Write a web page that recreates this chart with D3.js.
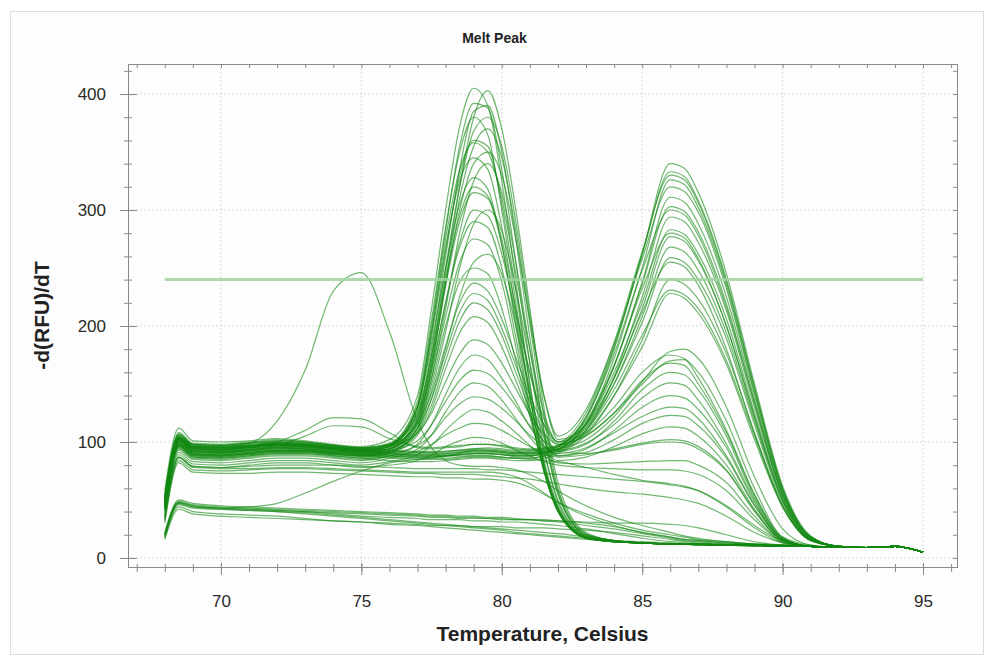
<!DOCTYPE html>
<html>
<head>
<meta charset="utf-8">
<script src="https://cdn.jsdelivr.net/npm/d3@7"></script>
<style>
  body { margin: 0; background: #fff; }
  svg { display: block; }
  text { font-family: "Liberation Sans", Arial, sans-serif; }
</style>
</head>
<body>
<svg id="chart" width="989" height="659"></svg>
<script>
// temperature grid shared by every well
const temps = [68, 68.5, 69, 70, 71, 72, 73, 74, 75, 76, 77, 77.5, 78, 78.5, 79, 79.5, 80, 80.5, 81, 81.5, 82, 83, 84, 85, 86, 86.5, 87, 88, 89, 90, 91, 92, 93, 94, 95];

const xTicks = [70, 75, 80, 85, 90, 95];
const yTicks = [0, 100, 200, 300, 400];
const threshold = 240;

// wells with only the ~79 C peak
const peakOneCurves = [
    [58, 112, 101, 100, 101, 103, 101, 98, 96, 102, 140, 215, 300, 372, 405, 390, 325, 238, 150, 82, 42, 18, 14, 13, 12, 12, 12, 11, 11, 10, 10, 9, 9, 10, 5],
    [55, 108, 99, 98, 100, 102, 100, 97, 95, 98, 122, 170, 245, 320, 380, 403, 370, 300, 215, 130, 65, 22, 15, 13, 12, 12, 12, 11, 11, 10, 10, 9, 9, 10, 5],
    [52, 105, 96, 95, 97, 99, 98, 96, 94, 97, 125, 180, 260, 335, 385, 390, 350, 275, 190, 110, 55, 20, 15, 13, 12, 12, 11, 11, 11, 10, 10, 9, 9, 10, 5],
    [54, 107, 98, 97, 99, 101, 100, 97, 95, 99, 132, 200, 282, 355, 392, 388, 335, 255, 168, 95, 48, 19, 14, 13, 12, 12, 12, 11, 11, 10, 10, 9, 9, 10, 5],
    [50, 104, 95, 94, 96, 98, 97, 95, 93, 98, 135, 205, 285, 350, 380, 365, 300, 220, 140, 78, 40, 17, 14, 13, 12, 12, 12, 11, 11, 10, 10, 9, 9, 10, 5],
    [51, 104, 96, 95, 97, 99, 98, 95, 93, 96, 118, 165, 238, 310, 355, 370, 345, 282, 202, 122, 60, 21, 15, 13, 12, 12, 12, 11, 11, 10, 10, 9, 9, 10, 5],
    [48, 102, 94, 93, 95, 97, 96, 94, 92, 96, 128, 190, 265, 330, 360, 355, 305, 230, 150, 85, 45, 18, 14, 13, 12, 12, 12, 11, 11, 10, 10, 9, 9, 10, 5],
    [49, 103, 95, 94, 96, 98, 97, 94, 92, 97, 130, 195, 268, 325, 345, 335, 285, 212, 140, 80, 42, 17, 14, 13, 12, 12, 12, 11, 11, 10, 10, 9, 9, 10, 5],
    [46, 100, 92, 91, 93, 95, 95, 93, 91, 94, 115, 155, 215, 280, 325, 340, 315, 255, 180, 110, 58, 20, 15, 13, 12, 12, 12, 11, 11, 10, 10, 9, 9, 10, 5],
    [50, 103, 95, 94, 96, 98, 97, 95, 93, 97, 130, 185, 250, 305, 328, 318, 270, 200, 130, 75, 40, 17, 14, 13, 12, 12, 12, 11, 11, 10, 10, 9, 9, 10, 5],
    [45, 98, 90, 89, 91, 93, 93, 91, 90, 93, 120, 170, 235, 290, 315, 310, 270, 205, 138, 80, 42, 18, 14, 13, 12, 12, 12, 11, 11, 10, 10, 9, 9, 10, 5],
    [44, 97, 89, 88, 90, 92, 92, 90, 89, 92, 110, 145, 195, 250, 288, 300, 282, 232, 168, 105, 55, 20, 15, 13, 12, 12, 12, 11, 11, 10, 10, 9, 9, 10, 5],
    [47, 100, 92, 91, 93, 95, 94, 92, 90, 94, 118, 162, 220, 268, 290, 285, 250, 190, 128, 75, 40, 17, 14, 13, 12, 12, 12, 11, 11, 10, 10, 9, 9, 10, 5],
    [43, 96, 88, 87, 89, 91, 91, 89, 88, 91, 112, 155, 208, 255, 275, 270, 238, 182, 125, 75, 42, 18, 14, 13, 12, 12, 12, 11, 11, 10, 10, 9, 9, 10, 5],
    [45, 98, 90, 89, 91, 93, 92, 90, 88, 91, 108, 138, 180, 225, 255, 262, 245, 200, 145, 92, 50, 19, 15, 13, 12, 12, 12, 11, 11, 10, 10, 9, 9, 10, 5],
    [44, 97, 89, 88, 90, 92, 92, 90, 88, 92, 112, 150, 200, 238, 250, 245, 215, 170, 122, 78, 44, 18, 14, 13, 12, 12, 12, 11, 11, 10, 10, 9, 9, 10, 5]
];

// wells with both big peaks
const doublePeakCurves = [
    [52, 106, 97, 96, 98, 100, 99, 96, 94, 98, 130, 195, 275, 335, 358, 350, 310, 245, 180, 125, 100, 118, 166, 232, 280, 276, 258, 200, 122, 50, 16, 10, 9, 10, 5],
    [50, 104, 96, 95, 97, 99, 98, 95, 93, 96, 118, 165, 235, 300, 340, 350, 330, 275, 205, 140, 105, 128, 186, 264, 330, 326, 306, 238, 146, 60, 18, 10, 9, 10, 5],
    [48, 102, 94, 93, 95, 97, 96, 94, 92, 95, 122, 175, 240, 295, 320, 312, 275, 215, 160, 115, 98, 121, 176, 248, 300, 296, 278, 216, 134, 55, 17, 10, 9, 10, 5],
    [52, 106, 98, 97, 99, 101, 100, 97, 95, 98, 125, 175, 250, 320, 368, 380, 355, 290, 210, 140, 102, 115, 155, 212, 255, 251, 235, 180, 107, 45, 15, 10, 9, 10, 5],
    [46, 100, 92, 91, 93, 95, 95, 93, 91, 94, 115, 160, 220, 272, 300, 295, 262, 210, 160, 120, 100, 125, 184, 258, 320, 316, 298, 232, 141, 58, 18, 10, 9, 10, 5]
];

// wells with only the ~86 C peak
const peakTwoCurves = [
    [50, 104, 96, 95, 97, 99, 98, 96, 94, 92, 91, 91, 91, 92, 93, 93, 92, 91, 91, 92, 96, 120, 180, 262, 340, 336, 315, 245, 150, 62, 19, 10, 9, 10, 5],
    [48, 102, 94, 93, 95, 97, 96, 94, 92, 90, 89, 89, 89, 90, 91, 91, 90, 89, 89, 91, 95, 122, 182, 262, 333, 329, 308, 240, 147, 60, 18, 10, 9, 10, 5],
    [47, 101, 93, 92, 94, 96, 95, 93, 91, 89, 88, 88, 88, 89, 90, 90, 89, 88, 88, 90, 94, 116, 172, 250, 326, 322, 302, 235, 143, 58, 18, 10, 9, 10, 5],
    [53, 106, 98, 97, 99, 100, 99, 97, 95, 93, 92, 92, 92, 93, 94, 94, 93, 92, 92, 93, 96, 116, 166, 238, 311, 307, 288, 225, 137, 56, 18, 10, 9, 10, 5],
    [46, 100, 92, 91, 93, 95, 94, 92, 90, 88, 87, 87, 88, 89, 90, 90, 89, 88, 88, 90, 93, 115, 165, 236, 303, 299, 281, 219, 133, 54, 17, 10, 9, 10, 5],
    [45, 99, 91, 90, 92, 94, 93, 91, 89, 87, 86, 86, 86, 87, 88, 88, 87, 86, 86, 88, 91, 110, 156, 225, 294, 290, 272, 213, 130, 54, 17, 10, 9, 10, 5],
    [51, 104, 97, 96, 97, 99, 98, 96, 94, 92, 91, 91, 92, 93, 94, 95, 94, 93, 93, 94, 97, 115, 160, 220, 283, 279, 262, 206, 125, 52, 16, 10, 9, 10, 5],
    [50, 103, 95, 94, 96, 98, 97, 95, 93, 91, 90, 90, 90, 91, 92, 92, 91, 90, 90, 91, 94, 113, 155, 215, 277, 273, 256, 200, 121, 50, 16, 10, 9, 10, 5],
    [44, 97, 89, 88, 90, 92, 92, 90, 88, 86, 85, 85, 85, 86, 87, 87, 86, 86, 86, 88, 92, 110, 150, 208, 268, 264, 248, 194, 118, 50, 16, 10, 9, 10, 5],
    [49, 102, 94, 93, 95, 97, 96, 94, 92, 90, 89, 89, 90, 91, 92, 92, 91, 90, 90, 91, 94, 112, 150, 203, 259, 255, 240, 189, 115, 48, 15, 10, 9, 10, 5],
    [42, 95, 87, 86, 88, 90, 90, 88, 86, 84, 83, 83, 84, 85, 86, 86, 85, 84, 84, 86, 90, 106, 140, 188, 240, 236, 223, 176, 108, 46, 15, 10, 9, 10, 5],
    [47, 100, 92, 91, 93, 95, 94, 92, 90, 88, 87, 87, 88, 89, 90, 90, 89, 88, 88, 90, 93, 108, 140, 182, 228, 224, 211, 167, 102, 44, 15, 10, 9, 10, 5],
    [50, 103, 95, 95, 96, 100, 110, 121, 120, 108, 95, 94, 95, 96, 98, 98, 96, 94, 93, 94, 96, 110, 145, 192, 231, 227, 215, 170, 105, 44, 15, 10, 9, 10, 5]
];

// wells with smaller peaks at both temperatures
const mixedCurves = [
    [48, 102, 94, 93, 95, 97, 97, 95, 93, 97, 116, 142, 183, 220, 237, 230, 206, 173, 140, 115, 100, 108, 130, 160, 175, 172, 155, 110, 55, 18, 11, 9, 9, 10, 5],
    [45, 99, 91, 90, 92, 94, 94, 92, 90, 94, 112, 137, 176, 212, 228, 222, 198, 166, 135, 108, 92, 90, 93, 98, 100, 99, 94, 75, 40, 15, 10, 9, 9, 10, 5],
    [44, 97, 89, 88, 90, 92, 92, 90, 88, 92, 108, 132, 170, 204, 220, 214, 192, 160, 128, 104, 92, 98, 118, 145, 160, 158, 145, 105, 52, 17, 10, 9, 9, 10, 5],
    [42, 95, 87, 86, 88, 90, 90, 88, 86, 90, 106, 128, 163, 194, 208, 203, 182, 153, 123, 100, 88, 94, 110, 130, 140, 138, 128, 95, 48, 16, 10, 9, 9, 10, 5],
    [47, 101, 93, 92, 94, 96, 96, 94, 92, 96, 108, 125, 152, 176, 188, 184, 168, 146, 124, 107, 98, 106, 125, 153, 168, 166, 150, 108, 54, 17, 10, 9, 9, 10, 5],
    [40, 93, 85, 84, 86, 88, 88, 86, 84, 88, 98, 115, 141, 164, 175, 171, 155, 135, 113, 97, 88, 91, 102, 116, 123, 122, 114, 86, 45, 16, 10, 9, 9, 10, 5],
    [45, 98, 90, 89, 91, 93, 93, 91, 89, 92, 101, 115, 135, 153, 162, 159, 147, 131, 114, 101, 93, 99, 115, 138, 151, 149, 136, 98, 50, 16, 10, 9, 9, 10, 5],
    [38, 91, 83, 82, 84, 86, 86, 84, 82, 86, 94, 106, 126, 143, 151, 148, 136, 120, 104, 91, 84, 87, 96, 107, 113, 112, 105, 80, 42, 15, 10, 9, 9, 10, 5],
    [43, 96, 88, 87, 89, 91, 91, 89, 87, 90, 97, 106, 121, 133, 139, 137, 129, 118, 106, 96, 90, 95, 108, 122, 130, 129, 120, 88, 46, 16, 10, 9, 9, 10, 5],
    [36, 89, 81, 80, 82, 84, 84, 82, 80, 83, 89, 97, 110, 121, 128, 126, 118, 108, 97, 88, 82, 81, 82, 83, 84, 84, 80, 65, 36, 14, 10, 9, 9, 10, 5],
    [41, 94, 86, 85, 87, 89, 89, 87, 85, 88, 92, 98, 106, 112, 116, 115, 110, 103, 96, 90, 87, 89, 94, 99, 102, 101, 96, 76, 41, 15, 10, 9, 9, 10, 5],
    [35, 87, 79, 78, 80, 82, 82, 80, 78, 80, 84, 89, 96, 101, 104, 103, 99, 93, 88, 83, 80, 78, 77, 76, 76, 75, 72, 58, 33, 14, 10, 9, 9, 10, 5],
    [48, 100, 92, 92, 93, 97, 105, 114, 113, 103, 96, 95, 96, 97, 98, 98, 97, 95, 94, 95, 97, 105, 125, 150, 170, 171, 160, 118, 60, 18, 10, 9, 9, 10, 5],
    [20, 47, 44, 43, 44, 47, 56, 66, 75, 82, 85, 86, 88, 90, 93, 93, 92, 91, 91, 92, 94, 102, 122, 152, 178, 180, 172, 130, 70, 25, 11, 9, 9, 10, 5]
];

// wells that stay flat and fade out
const flatCurves = [
    [33, 86, 78, 77, 77, 78, 78, 77, 76, 75, 74, 74, 74, 74, 74, 74, 73, 70, 64, 56, 48, 36, 28, 22, 18, 16, 15, 13, 12, 11, 10, 9, 9, 10, 5],
    [32, 84, 76, 75, 76, 77, 77, 76, 75, 74, 73, 73, 72, 72, 72, 71, 70, 69, 68, 66, 64, 60, 57, 55, 52, 50, 47, 36, 22, 13, 10, 9, 9, 10, 5],
    [35, 87, 79, 78, 79, 80, 80, 80, 79, 78, 77, 77, 77, 77, 77, 76, 76, 75, 74, 73, 72, 70, 68, 66, 63, 61, 58, 45, 28, 14, 10, 9, 9, 10, 5],
    [30, 82, 74, 73, 73, 74, 74, 73, 72, 71, 70, 70, 69, 69, 68, 68, 67, 65, 61, 55, 48, 38, 30, 24, 20, 18, 16, 14, 12, 11, 10, 9, 9, 10, 5],
    [50, 104, 96, 95, 96, 97, 96, 94, 92, 90, 88, 88, 88, 88, 88, 88, 87, 86, 85, 84, 83, 78, 72, 67, 64, 62, 58, 44, 26, 13, 10, 9, 9, 10, 5],
    [50, 104, 96, 96, 99, 118, 162, 230, 246, 195, 118, 95, 84, 80, 79, 79, 78, 76, 72, 66, 58, 45, 35, 28, 22, 19, 17, 14, 12, 11, 10, 9, 9, 10, 5]
];

// low-signal wells
const lowCurves = [
    [22, 50, 47, 45, 44, 43, 42, 41, 40, 39, 38, 37, 37, 36, 36, 35, 35, 34, 33, 32, 31, 28, 25, 21, 17, 15, 14, 12, 11, 10, 10, 9, 9, 10, 5],
    [20, 48, 45, 43, 42, 41, 40, 38, 36, 35, 34, 33, 33, 33, 32, 32, 31, 31, 30, 29, 28, 25, 21, 17, 14, 13, 12, 11, 11, 10, 10, 9, 9, 10, 5],
    [18, 46, 43, 42, 41, 40, 39, 37, 35, 33, 31, 30, 29, 28, 27, 26, 25, 24, 23, 22, 21, 18, 15, 13, 12, 12, 11, 11, 10, 10, 10, 9, 9, 10, 5],
    [21, 49, 46, 44, 43, 42, 41, 40, 39, 38, 37, 36, 36, 35, 35, 34, 34, 33, 33, 32, 32, 30, 27, 22, 18, 16, 15, 13, 12, 11, 10, 9, 9, 10, 5],
    [17, 44, 40, 38, 37, 36, 34, 32, 31, 29, 28, 27, 26, 25, 24, 23, 22, 21, 20, 19, 18, 16, 14, 13, 12, 12, 11, 11, 10, 10, 10, 9, 9, 10, 5],
    [19, 47, 44, 42, 41, 40, 38, 36, 34, 32, 30, 29, 28, 27, 26, 25, 24, 22, 21, 20, 19, 17, 15, 14, 13, 12, 12, 11, 11, 10, 10, 9, 9, 10, 5],
    [16, 42, 38, 36, 35, 34, 33, 32, 31, 30, 29, 28, 28, 28, 27, 27, 27, 26, 26, 26, 25, 24, 22, 19, 16, 14, 13, 12, 11, 10, 10, 9, 9, 10, 5],
    [20, 48, 45, 43, 42, 41, 40, 39, 38, 37, 36, 35, 35, 34, 34, 34, 33, 33, 33, 33, 32, 31, 30, 30, 29, 28, 26, 20, 14, 11, 10, 9, 9, 10, 5]
];

const svg = d3.select("#chart");
const width = +svg.attr("width");
const height = +svg.attr("height");
const margin = { top: 64, right: 32, bottom: 92, left: 128 };

// outer panel border
svg.append("rect")
    .attr("x", 10.5).attr("y", 11.5)
    .attr("width", width - 16).attr("height", height - 16)
    .attr("fill", "#fdfdfd")
    .attr("stroke", "#dedede");

const x = d3.scaleLinear()
    .domain([66.69, 96.21])
    .range([margin.left, width - margin.right]);

const y = d3.scaleLinear()
    .domain([-7.8, 425.9])
    .range([height - margin.bottom, margin.top]);

const plot = svg.append("g");

// dotted grid at major ticks
plot.append("g").selectAll("line").data(xTicks).enter().append("line")
    .attr("x1", d => x(d)).attr("x2", d => x(d))
    .attr("y1", margin.top).attr("y2", height - margin.bottom)
    .attr("stroke", "#dadada").attr("stroke-dasharray", "2,2");
plot.append("g").selectAll("line").data(yTicks).enter().append("line")
    .attr("x1", margin.left).attr("x2", width - margin.right)
    .attr("y1", d => y(d)).attr("y2", d => y(d))
    .attr("stroke", "#dadada").attr("stroke-dasharray", "2,2");

const line = d3.line()
    .x((d, i) => x(temps[i]))
    .y(d => y(d))
    .curve(d3.curveMonotoneX);

const allCurves = [].concat(lowCurves, flatCurves, mixedCurves, peakTwoCurves, doublePeakCurves, peakOneCurves);

plot.append("g").selectAll("path").data(allCurves).enter().append("path")
    .attr("d", line)
    .attr("fill", "none")
    .attr("stroke", "#128812")
    .attr("stroke-opacity", 0.6)
    .attr("stroke-width", 1.2);

// threshold line
plot.append("line")
    .attr("x1", x(temps[0])).attr("x2", x(temps[temps.length - 1]))
    .attr("y1", y(threshold)).attr("y2", y(threshold))
    .attr("stroke", "#9fd29f").attr("stroke-opacity", 0.85)
    .attr("stroke-width", 3);

// frame
svg.append("rect")
    .attr("x", margin.left + 0.5).attr("y", margin.top + 0.5)
    .attr("width", width - margin.left - margin.right)
    .attr("height", height - margin.top - margin.bottom)
    .attr("fill", "none").attr("stroke", "#8a8a8a");

const minorX = d3.range(67, 97, 1);
const minorY = d3.range(0, 421, 20);
const axisColor = "#8a8a8a";

// bottom axis
const bottomMinor = svg.append("g").attr("transform", `translate(0,${height - margin.bottom})`)
    .call(d3.axisBottom(x).tickValues(minorX).tickSize(5).tickFormat(""));
bottomMinor.select(".domain").remove();
bottomMinor.selectAll("line").attr("stroke", axisColor).attr("y1", -3);
const bottomMajor = svg.append("g").attr("transform", `translate(0,${height - margin.bottom})`)
    .call(d3.axisBottom(x).tickValues(xTicks).tickSize(8).tickPadding(20));
bottomMajor.select(".domain").remove();
bottomMajor.selectAll("line").attr("stroke", axisColor).attr("y1", -4);
bottomMajor.selectAll("text").attr("font-size", 17).attr("fill", "#2a2a2a")
    .attr("font-family", "'Liberation Sans', Arial, sans-serif");

// top frame ticks
const topMinor = svg.append("g").attr("transform", `translate(0,${margin.top})`)
    .call(d3.axisTop(x).tickValues(minorX).tickSize(-4).tickFormat(""));
topMinor.select(".domain").remove();
topMinor.selectAll("line").attr("stroke", axisColor);

// left axis
const leftMinor = svg.append("g").attr("transform", `translate(${margin.left},0)`)
    .call(d3.axisLeft(y).tickValues(minorY).tickSize(4).tickFormat(""));
leftMinor.select(".domain").remove();
leftMinor.selectAll("line").attr("stroke", axisColor).attr("x1", 4);
const leftMajor = svg.append("g").attr("transform", `translate(${margin.left},0)`)
    .call(d3.axisLeft(y).tickValues(yTicks).tickSize(8).tickPadding(14));
leftMajor.select(".domain").remove();
leftMajor.selectAll("line").attr("stroke", axisColor).attr("x1", 9);
leftMajor.selectAll("text").attr("font-size", 17).attr("fill", "#2a2a2a")
    .attr("font-family", "'Liberation Sans', Arial, sans-serif");

// right frame ticks
const rightMinor = svg.append("g").attr("transform", `translate(${width - margin.right},0)`)
    .call(d3.axisRight(y).tickValues(minorY).tickSize(-4).tickFormat(""));
rightMinor.select(".domain").remove();
rightMinor.selectAll("line").attr("stroke", axisColor);

// titles
svg.append("text")
    .attr("x", width / 2).attr("y", 43)
    .attr("text-anchor", "middle")
    .attr("font-size", 14).attr("font-weight", "bold").attr("fill", "#222")
    .text("Melt Peak");

svg.append("text")
    .attr("x", (margin.left + width - margin.right) / 2).attr("y", 641)
    .attr("text-anchor", "middle")
    .attr("font-size", 21).attr("font-weight", "bold").attr("fill", "#222")
    .text("Temperature, Celsius");

svg.append("text")
    .attr("transform", `translate(49,${(margin.top + height - margin.bottom) / 2}) rotate(-90)`)
    .attr("text-anchor", "middle")
    .attr("font-size", 21).attr("font-weight", "bold").attr("fill", "#222")
    .text("-d(RFU)/dT");
</script>
</body>
</html>
